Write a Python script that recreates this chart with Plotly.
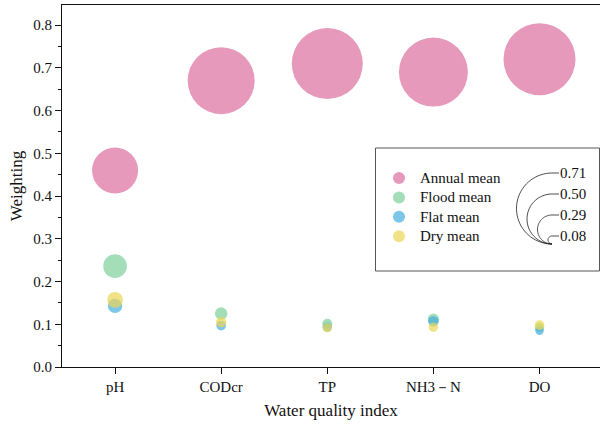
import numpy as np
import plotly.graph_objects as go

# ---- data ----
categories = ["pH", "CODcr", "TP", "NH3－N", "DO"]
annual_mean = [0.46, 0.67, 0.71, 0.69, 0.72]
flood_mean = [0.236, 0.125, 0.101, 0.112, 0.092]
flat_mean = [0.143, 0.097, 0.093, 0.107, 0.085]
dry_mean = [0.157, 0.105, 0.092, 0.093, 0.098]
scale_values = [0.71, 0.50, 0.29, 0.08]

series_names = ["Annual mean", "Flood mean", "Flat mean", "Dry mean"]
series_values = [annual_mean, flood_mean, flat_mean, dry_mean]
series_colors = [
    "rgba(224,128,170,0.80)",
    "rgba(124,208,155,0.70)",
    "rgba(69,174,222,0.70)",
    "rgba(236,214,84,0.70)",
]

# ---- geometry of the page ----
W, H = 600, 425
ML, MR, MT, MB = 62, 0, 5, 58
PW, PH = W - ML - MR, H - MT - MB
PX_PER_UNIT = 100  # bubble diameter in px per unit of weighting

FONT = "Liberation Serif, Times New Roman, serif"


def px2x(px):
    return (px - ML) / PW


def py2y(py):
    return (H - MB - py) / PH


fig = go.Figure()

for name, vals, col in zip(series_names, series_values, series_colors):
    fig.add_trace(go.Scatter(
        x=categories, y=vals, mode="markers", name=name, showlegend=False,
        marker=dict(size=[v * PX_PER_UNIT for v in vals], sizemode="diameter",
                    color=col, opacity=1, line=dict(width=0)),
    ))

shapes = []
annotations = []

# legend frame
shapes.append(dict(type="rect", xref="paper", yref="paper",
                   x0=px2x(375.5), x1=px2x(599.5), y0=py2y(271), y1=py2y(148),
                   line=dict(color="#555", width=1), fillcolor="rgba(0,0,0,0)"))

# legend entries: swatch + label
row0, row_gap = 178, 19.4
for i, (name, col) in enumerate(zip(series_names, series_colors)):
    yy = py2y(row0 + i * row_gap)
    shapes.append(dict(type="circle", xref="paper", yref="paper",
                       xsizemode="pixel", ysizemode="pixel",
                       xanchor=px2x(399), yanchor=yy,
                       x0=-6, x1=6, y0=-6, y1=6,
                       fillcolor=col, line=dict(width=0)))
    annotations.append(dict(xref="paper", yref="paper", x=px2x(418), y=yy,
                            text=name, showarrow=False, xanchor="left", yanchor="middle",
                            font=dict(family=FONT, size=15, color="#111")))

# bubble size scale: nested half circles sharing a bottom point
cx, base = 552, 244
for v in scale_values:
    d = v * PX_PER_UNIT
    r = d / 2
    cy = base - r
    ang = np.linspace(np.pi / 2, 3 * np.pi / 2, 40)
    xs = cx + r * np.cos(ang)
    ys = cy - r * np.sin(ang)
    path = "M " + " L ".join(f"{px2x(a):.5f},{py2y(b):.5f}" for a, b in zip(xs, ys))
    shapes.append(dict(type="path", xref="paper", yref="paper", path=path,
                       line=dict(color="#222", width=0.8)))
    top = base - d
    shapes.append(dict(type="line", xref="paper", yref="paper",
                       x0=px2x(cx), x1=px2x(559), y0=py2y(top), y1=py2y(top),
                       line=dict(color="#222", width=0.8)))
    annotations.append(dict(xref="paper", yref="paper", x=px2x(558), y=py2y(top),
                            text=f"{v:.2f}", showarrow=False, xanchor="left",
                            yanchor="middle", font=dict(family=FONT, size=15, color="#111")))

fig.update_layout(
    width=W, height=H,
    margin=dict(l=ML, r=MR, t=MT, b=MB),
    paper_bgcolor="white", plot_bgcolor="white",
    font=dict(family=FONT, size=15, color="#111"),
    showlegend=False,
    shapes=shapes,
    annotations=annotations,
    xaxis=dict(
        type="category", range=[-0.5, 4.57],
        showline=True, linecolor="#111", linewidth=1, mirror=True,
        ticks="outside", ticklen=6, tickcolor="#111", showgrid=False, zeroline=False,
        tickfont=dict(family=FONT, size=15, color="#111"),
        title=dict(text="Water quality index", font=dict(family=FONT, size=17, color="#111"),
                   standoff=10),
    ),
    yaxis=dict(
        range=[0, 0.847], dtick=0.1, tick0=0, tickformat=".1f",
        showline=True, linecolor="#111", linewidth=1,
        ticks="outside", ticklen=6, tickcolor="#111", showgrid=False, zeroline=False,
        minor=dict(dtick=0.05, ticks="outside", ticklen=3, tickcolor="#111", showgrid=False),
        tickfont=dict(family=FONT, size=15, color="#111"),
        title=dict(text="Weighting", font=dict(family=FONT, size=17, color="#111"),
                   standoff=6),
    ),
)

fig.write_html("out.html")
